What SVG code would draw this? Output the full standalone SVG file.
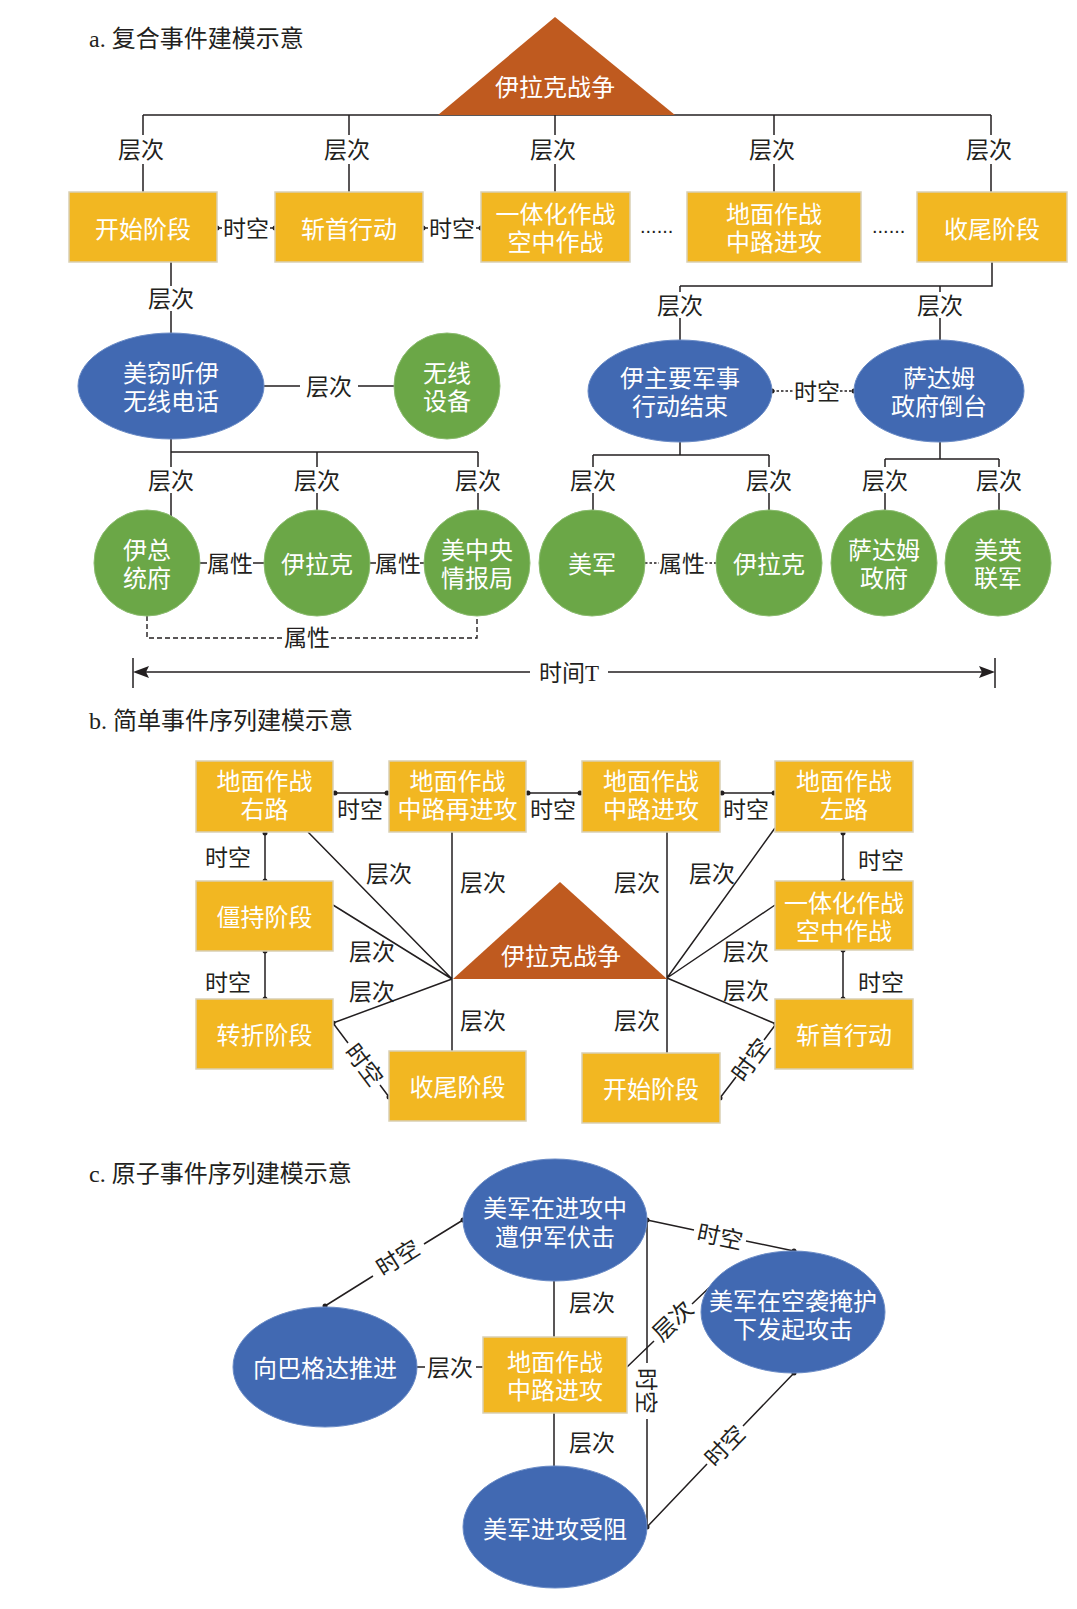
<svg xmlns="http://www.w3.org/2000/svg" width="1077" height="1609" viewBox="0 0 1077 1609">
<style>
.t{font-family:"Liberation Sans","Noto Sans CJK SC","Noto Sans CJK JP",sans-serif;text-anchor:middle;dominant-baseline:central}
.w{fill:#ffffff;font-size:24px}
.k{fill:#231f20;font-size:23px}
.ttl{font-family:"Liberation Serif","Noto Sans CJK SC",serif;font-size:24px;fill:#231f20}
.dots{font-family:"Liberation Sans",sans-serif;font-size:20px;fill:#231f20}
.box{fill:#F2B722;stroke:#D9CFB4;stroke-width:1.5}
.blue{fill:#4169B2;stroke:#6A8BC6;stroke-width:1}
.green{fill:#6BA747;stroke:#8CBC70;stroke-width:1}
.tri{fill:#BF5A1F}
.ln{stroke:#231f20;stroke-width:1.5;fill:none}
.dl{stroke:#231f20;stroke-width:1.4;fill:none;stroke-dasharray:5 3}
.dt{stroke:#231f20;stroke-width:1.3;fill:none;stroke-dasharray:2.5 2}
.dot{fill:#231f20}
</style>
<rect x="0" y="0" width="1077" height="1609" fill="#ffffff"/>

<!-- titles -->
<text class="ttl" x="89" y="47">a. 复合事件建模示意</text>
<text class="ttl" x="89" y="729">b. 简单事件序列建模示意</text>
<text class="ttl" x="89" y="1182">c. 原子事件序列建模示意</text>

<!-- ================= Section a connectors ================= -->
<g id="connectors-a">
  <path class="ln" d="M143 115 H991"/>
  <path class="ln" d="M143 115 V135 M143 164 V192 M349 115 V135 M349 164 V192 M555 115 V135 M555 164 V192 M774 115 V135 M774 164 V192 M991 115 V135 M991 164 V192"/>
  <text class="t k" x="141" y="150">层次</text>
  <text class="t k" x="347" y="150">层次</text>
  <text class="t k" x="553" y="150">层次</text>
  <text class="t k" x="772" y="150">层次</text>
  <text class="t k" x="989" y="150">层次</text>

  <path class="ln" d="M217 228 H222 M270 228 H275 M423 228 H428 M476 228 H481"/>
  <circle class="dot" cx="217" cy="228" r="2.5"/><circle class="dot" cx="275" cy="228" r="2.5"/>
  <circle class="dot" cx="423" cy="228" r="2.5"/><circle class="dot" cx="481" cy="228" r="2.5"/>
  <text class="t k" x="246" y="229">时空</text>
  <text class="t k" x="452" y="229">时空</text>
  <text class="dots" x="640" y="233">......</text>
  <text class="dots" x="872" y="233">......</text>

  <path class="ln" d="M171 262 V286 M171 311 V333"/>
  <text class="t k" x="171" y="299">层次</text>
  <path class="ln" d="M264 386 H300 M358 386 H394"/>
  <text class="t k" x="329" y="387">层次</text>

  <path class="ln" d="M171 439 V452 M171 452 H478 M171 452 V467 M171 493 V516 M317 452 V467 M317 493 V510 M478 452 V467 M478 493 V510"/>
  <text class="t k" x="171" y="481">层次</text>
  <text class="t k" x="317" y="481">层次</text>
  <text class="t k" x="478" y="481">层次</text>

  <path class="ln" d="M200 563 H207 M253 563 H264 M370 563 H376 M420 563 H424"/>
  <text class="t k" x="230" y="564">属性</text>
  <text class="t k" x="398" y="564">属性</text>
  <path class="dl" d="M147 616 V638 H283 M331 638 H477 V616"/>
  <text class="t k" x="307" y="638">属性</text>

  <path class="ln" d="M992 262 V286 H680 M680 286 V292 M680 318 V340 M940 286 V292 M940 318 V340"/>
  <text class="t k" x="680" y="306">层次</text>
  <text class="t k" x="940" y="306">层次</text>

  <path class="dt" d="M772 391 H794 M840 391 H854"/>
  <circle class="dot" cx="772" cy="391" r="2.5"/><circle class="dot" cx="854" cy="391" r="2.5"/>
  <text class="t k" x="817" y="392">时空</text>

  <path class="ln" d="M680 442 V455 M593 455 H769 M593 455 V467 M593 493 V510 M769 455 V467 M769 493 V510"/>
  <text class="t k" x="593" y="481">层次</text>
  <text class="t k" x="769" y="481">层次</text>
  <path class="ln" d="M940 442 V459 M885 459 H999 M885 459 V467 M885 493 V510 M999 459 V467 M999 493 V510"/>
  <text class="t k" x="885" y="481">层次</text>
  <text class="t k" x="999" y="481">层次</text>

  <path class="dt" d="M645 563 H659 M705 563 H716"/>
  <text class="t k" x="682" y="564">属性</text>

  <path class="ln" d="M140 672 H530 M608 672 H988 M133 658 V688 M995 658 V688"/>
  <polygon class="dot" points="133,672 149,666 146,672 149,678"/>
  <polygon class="dot" points="995,672 979,666 982,672 979,678"/>
  <text class="t k" x="569" y="673" style="font-family:'Liberation Serif','Noto Sans CJK SC',serif">时间T</text>
</g>

<!-- ================= Section a nodes ================= -->
<g id="a-war">
  <polygon class="tri" points="438,115 555,17 675,115"/>
  <text class="t w" x="555" y="87">伊拉克战争</text>
</g>
<g id="a-start"><rect class="box" x="69" y="192" width="148" height="70"/><text class="t w" x="143" y="229">开始阶段</text></g>
<g id="a-decap"><rect class="box" x="275" y="192" width="148" height="70"/><text class="t w" x="349" y="229">斩首行动</text></g>
<g id="a-air"><rect class="box" x="481" y="192" width="149" height="70"/><text class="t w"><tspan x="555.5" y="214">一体化作战</tspan><tspan x="555.5" y="242">空中作战</tspan></text></g>
<g id="a-ground"><rect class="box" x="687" y="192" width="174" height="70"/><text class="t w"><tspan x="774" y="214">地面作战</tspan><tspan x="774" y="242">中路进攻</tspan></text></g>
<g id="a-end"><rect class="box" x="917" y="192" width="150" height="70"/><text class="t w" x="992" y="229">收尾阶段</text></g>

<g id="a-tap"><ellipse class="blue" cx="171" cy="386" rx="93" ry="53"/><text class="t w"><tspan x="171" y="373">美窃听伊</tspan><tspan x="171" y="401">无线电话</tspan></text></g>
<g id="a-radio"><circle class="green" cx="447" cy="386" r="53"/><text class="t w"><tspan x="447" y="373">无线</tspan><tspan x="447" y="401">设备</tspan></text></g>
<g id="a-mil-end"><ellipse class="blue" cx="680" cy="391" rx="92" ry="51"/><text class="t w"><tspan x="680" y="378">伊主要军事</tspan><tspan x="680" y="406">行动结束</tspan></text></g>
<g id="a-saddam-fall"><ellipse class="blue" cx="939" cy="391" rx="85" ry="51"/><text class="t w"><tspan x="939" y="378">萨达姆</tspan><tspan x="939" y="406">政府倒台</tspan></text></g>

<g id="a-palace"><circle class="green" cx="147" cy="563" r="53"/><text class="t w"><tspan x="147" y="550">伊总</tspan><tspan x="147" y="578">统府</tspan></text></g>
<g id="a-iraq1"><circle class="green" cx="317" cy="563" r="53"/><text class="t w" x="317" y="564">伊拉克</text></g>
<g id="a-cia"><circle class="green" cx="477" cy="563" r="53"/><text class="t w"><tspan x="477" y="550">美中央</tspan><tspan x="477" y="578">情报局</tspan></text></g>
<g id="a-us"><circle class="green" cx="592" cy="563" r="53"/><text class="t w" x="592" y="564">美军</text></g>
<g id="a-iraq2"><circle class="green" cx="769" cy="563" r="53"/><text class="t w" x="769" y="564">伊拉克</text></g>
<g id="a-saddam-gov"><circle class="green" cx="884" cy="563" r="53"/><text class="t w"><tspan x="884" y="550">萨达姆</tspan><tspan x="884" y="578">政府</tspan></text></g>
<g id="a-coalition"><circle class="green" cx="998" cy="563" r="53"/><text class="t w"><tspan x="998" y="550">美英</tspan><tspan x="998" y="578">联军</tspan></text></g>

<!-- ================= Section b connectors ================= -->
<g id="connectors-b">
  <path class="ln" d="M335 793 H387 M528 793 H580 M722 793 H774"/>
  <circle class="dot" cx="335" cy="793" r="2.5"/><circle class="dot" cx="387" cy="793" r="2.5"/>
  <circle class="dot" cx="528" cy="793" r="2.5"/><circle class="dot" cx="580" cy="793" r="2.5"/>
  <circle class="dot" cx="722" cy="793" r="2.5"/><circle class="dot" cx="774" cy="793" r="2.5"/>
  <text class="t k" x="360" y="810">时空</text>
  <text class="t k" x="553" y="810">时空</text>
  <text class="t k" x="746" y="810">时空</text>

  <path class="ln" d="M265 833 V881 M265 951 V999 M843 833 V881 M843 950 V999"/>
  <circle class="dot" cx="265" cy="833" r="2.5"/><circle class="dot" cx="265" cy="881" r="2.5"/>
  <circle class="dot" cx="265" cy="951" r="2.5"/><circle class="dot" cx="265" cy="999" r="2.5"/>
  <circle class="dot" cx="843" cy="833" r="2.5"/><circle class="dot" cx="843" cy="881" r="2.5"/>
  <circle class="dot" cx="843" cy="950" r="2.5"/><circle class="dot" cx="843" cy="999" r="2.5"/>
  <text class="t k" x="228" y="858">时空</text>
  <text class="t k" x="228" y="983">时空</text>
  <text class="t k" x="881" y="861">时空</text>
  <text class="t k" x="881" y="983">时空</text>

  <path class="ln" d="M452 979 L308 832 M452 979 L333 905 M452 979 L333 1023 M452 832 V1051"/>
  <circle class="dot" cx="333" cy="1023" r="2.5"/>
  <text class="t k" x="389" y="874">层次</text>
  <text class="t k" x="372" y="952">层次</text>
  <text class="t k" x="372" y="992">层次</text>
  <text class="t k" x="483" y="883">层次</text>
  <text class="t k" x="483" y="1021">层次</text>
  <path class="ln" d="M333 1023 L348 1043 M380 1085 L389 1097"/>
  <circle class="dot" cx="389" cy="1097" r="2.5"/>
  <text class="t k" x="364" y="1065" transform="rotate(53 364 1065)">时空</text>

  <path class="ln" d="M667 978 L775 828 M667 978 L775 905 M667 978 L776 1024 M667 832 V1053"/>
  <circle class="dot" cx="776" cy="1024" r="2.5"/>
  <text class="t k" x="712" y="874">层次</text>
  <text class="t k" x="746" y="952">层次</text>
  <text class="t k" x="746" y="991">层次</text>
  <text class="t k" x="637" y="883">层次</text>
  <text class="t k" x="637" y="1021">层次</text>
  <path class="ln" d="M776 1024 L764 1040 M736 1077 L720 1098"/>
  <circle class="dot" cx="720" cy="1098" r="2.5"/>
  <text class="t k" x="751" y="1060" transform="rotate(-53 751 1060)">时空</text>
</g>

<!-- ================= Section b nodes ================= -->
<g id="b-war">
  <polygon class="tri" points="453,979 560,882 667,979"/>
  <text class="t w" x="561" y="956">伊拉克战争</text>
</g>
<g id="b-right"><rect class="box" x="196" y="761" width="137" height="71"/><text class="t w"><tspan x="264.5" y="781">地面作战</tspan><tspan x="264.5" y="809">右路</tspan></text></g>
<g id="b-mid2"><rect class="box" x="389" y="761" width="137" height="71"/><text class="t w"><tspan x="457.5" y="781">地面作战</tspan><tspan x="457.5" y="809">中路再进攻</tspan></text></g>
<g id="b-mid"><rect class="box" x="582" y="761" width="138" height="71"/><text class="t w"><tspan x="651" y="781">地面作战</tspan><tspan x="651" y="809">中路进攻</tspan></text></g>
<g id="b-left"><rect class="box" x="775" y="761" width="138" height="71"/><text class="t w"><tspan x="844" y="781">地面作战</tspan><tspan x="844" y="809">左路</tspan></text></g>
<g id="b-stalemate"><rect class="box" x="196" y="881" width="137" height="70"/><text class="t w" x="264.5" y="917">僵持阶段</text></g>
<g id="b-air"><rect class="box" x="775" y="881" width="138" height="69"/><text class="t w"><tspan x="844" y="903">一体化作战</tspan><tspan x="844" y="931">空中作战</tspan></text></g>
<g id="b-turn"><rect class="box" x="196" y="999" width="137" height="70"/><text class="t w" x="264.5" y="1035">转折阶段</text></g>
<g id="b-decap"><rect class="box" x="775" y="999" width="138" height="70"/><text class="t w" x="844" y="1035">斩首行动</text></g>
<g id="b-end"><rect class="box" x="389" y="1051" width="137" height="70"/><text class="t w" x="457.5" y="1087">收尾阶段</text></g>
<g id="b-start"><rect class="box" x="582" y="1053" width="138" height="70"/><text class="t w" x="651" y="1089">开始阶段</text></g>

<!-- ================= Section c connectors ================= -->
<g id="connectors-c">
  <path class="ln" d="M325 1306 L373 1276 M424 1244 L463 1220"/>
  <circle class="dot" cx="325" cy="1306" r="2.5"/><circle class="dot" cx="463" cy="1220" r="2.5"/>
  <text class="t k" x="398" y="1258" transform="rotate(-32 398 1258)">时空</text>

  <path class="ln" d="M554 1281 V1337 M554 1413 V1466"/>
  <text class="t k" x="592" y="1303">层次</text>
  <text class="t k" x="592" y="1443">层次</text>

  <path class="ln" d="M417 1367 H425 M476 1367 H483"/>
  <text class="t k" x="450" y="1368">层次</text>

  <path class="ln" d="M647 1220 L694 1230 M746 1241 L794 1251"/>
  <circle class="dot" cx="647" cy="1220" r="2.5"/><circle class="dot" cx="794" cy="1251" r="2.5"/>
  <text class="t k" x="720" y="1237" transform="rotate(12 720 1237)">时空</text>

  <path class="ln" d="M647 1220 V1363 M647 1419 V1527"/>
  <circle class="dot" cx="647" cy="1527" r="2.5"/>
  <text class="t k" x="646" y="1391" transform="rotate(90 646 1391)">时空</text>

  <path class="ln" d="M627 1367 L654 1341 M692 1304 L712 1285"/>
  <text class="t k" x="673" y="1321" transform="rotate(-44 673 1321)">层次</text>

  <path class="ln" d="M647 1527 L707 1464 M743 1426 L794 1373"/>
  <circle class="dot" cx="794" cy="1373" r="2.5"/>
  <text class="t k" x="725" y="1446" transform="rotate(-46 725 1446)">时空</text>
</g>

<!-- ================= Section c nodes ================= -->
<g id="c-ambush"><ellipse class="blue" cx="555" cy="1220" rx="92" ry="61"/><text class="t w"><tspan x="555" y="1208">美军在进攻中</tspan><tspan x="555" y="1237">遭伊军伏击</tspan></text></g>
<g id="c-baghdad"><ellipse class="blue" cx="325" cy="1367" rx="92" ry="60"/><text class="t w" x="325" y="1368">向巴格达推进</text></g>
<g id="c-ground"><rect class="box" x="483" y="1337" width="144" height="76"/><text class="t w"><tspan x="555" y="1362">地面作战</tspan><tspan x="555" y="1390">中路进攻</tspan></text></g>
<g id="c-airstrike"><ellipse class="blue" cx="793" cy="1312" rx="92" ry="61"/><text class="t w"><tspan x="793" y="1301">美军在空袭掩护</tspan><tspan x="793" y="1329">下发起攻击</tspan></text></g>
<g id="c-blocked"><ellipse class="blue" cx="555" cy="1527" rx="92" ry="61"/><text class="t w" x="555" y="1529">美军进攻受阻</text></g>
</svg>
